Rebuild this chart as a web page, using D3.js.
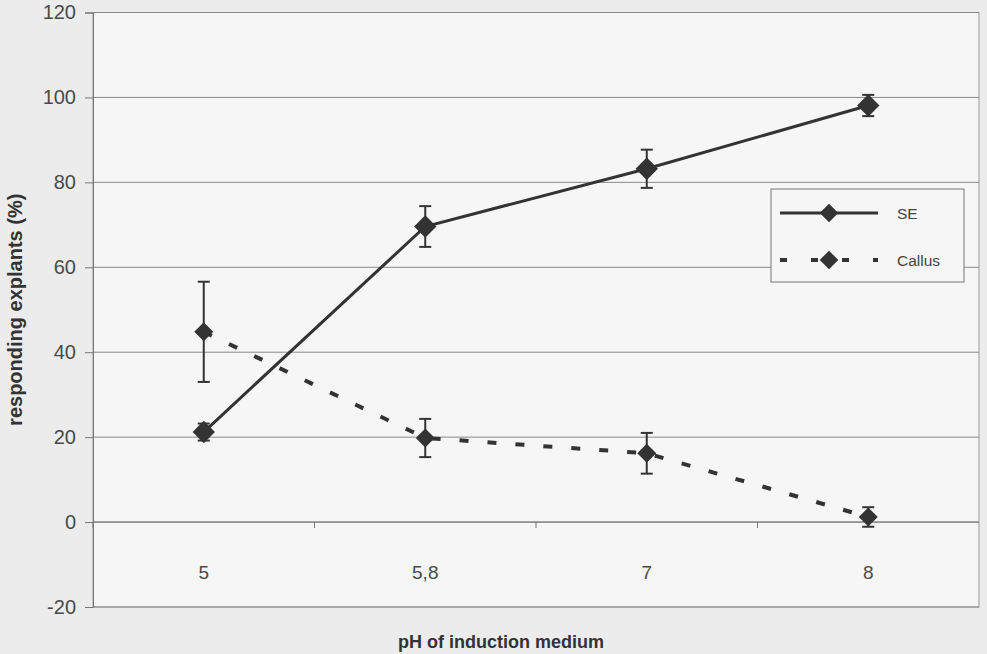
<!DOCTYPE html>
<html>
<head>
<meta charset="utf-8">
<script src="https://cdn.jsdelivr.net/npm/d3@7"></script>
<style>
  body { margin: 0; background: #ececec; }
  svg { display: block; font-family: "Liberation Sans", Arial, sans-serif; }
</style>
</head>
<body>
<svg id="chart" width="987" height="654"></svg>
<script>
// data
var categories = ["5", "5,8", "7", "8"];
var seValues = [21.2, 69.6, 83.2, 98.1];
var seErr = [2.0, 4.8, 4.5, 2.5];
var callusValues = [44.8, 19.8, 16.2, 1.2];
var callusErr = [11.8, 4.5, 4.8, 2.3];
var yTicks = [-20, 0, 20, 40, 60, 80, 100, 120];

var svg = d3.select("#chart");
var ink = "#333";

var plotL = 93, plotR = 979, plotT = 12.5, plotB = 607;

var x = d3.scaleBand().domain(categories).range([plotL, plotR]);
var y = d3.scaleLinear().domain([-20, 120]).range([plotB, plotT]);

// plot area
svg.append("rect")
  .attr("x", plotL).attr("y", plotT)
  .attr("width", plotR - plotL).attr("height", plotB - plotT)
  .attr("fill", "#f6f6f6")
  .attr("stroke", "#999").attr("stroke-width", 1);

// gridlines
svg.append("g")
  .selectAll("line")
  .data(yTicks)
  .join("line")
  .attr("x1", plotL).attr("x2", plotR)
  .attr("y1", d => y(d)).attr("y2", d => y(d))
  .attr("stroke", "#8a8a8a").attr("stroke-width", 1);

// y axis
var yAxis = svg.append("g")
  .attr("transform", "translate(" + plotL + ",0)")
  .call(d3.axisLeft(y).tickValues(yTicks).tickSize(8).tickPadding(9)
    .tickFormat(d => String(d)));
yAxis.select(".domain").attr("stroke", "#777");
yAxis.selectAll(".tick line").attr("stroke", "#777");
yAxis.selectAll("text").attr("fill", "#4a4a4a").attr("font-size", 20);

// x axis on zero line, ticks between categories
var xAxis = svg.append("g")
  .attr("transform", "translate(0," + y(0) + ")");
xAxis.append("line")
  .attr("x1", plotL).attr("x2", plotR)
  .attr("stroke", "#777");
xAxis.selectAll("line.tk")
  .data(categories)
  .join("line")
  .attr("class", "tk")
  .attr("x1", d => x(d)).attr("x2", d => x(d))
  .attr("y1", 0).attr("y2", 6)
  .attr("stroke", "#777");
xAxis.selectAll("text")
  .data(categories)
  .join("text")
  .attr("x", d => x(d) + x.bandwidth() / 2)
  .attr("y", 57)
  .attr("text-anchor", "middle")
  .attr("fill", "#4a4a4a")
  .attr("font-size", 19)
  .text(d => d);

// axis titles
svg.append("text")
  .attr("x", 501).attr("y", 648)
  .attr("text-anchor", "middle")
  .attr("font-weight", "bold")
  .attr("font-size", 18)
  .attr("fill", "#333")
  .text("pH of induction medium");

svg.append("text")
  .attr("transform", "translate(22," + (plotT + plotB) / 2 + ") rotate(-90)")
  .attr("text-anchor", "middle")
  .attr("font-weight", "bold")
  .attr("font-size", 20)
  .attr("fill", "#333")
  .text("responding explants (%)");

var cx = d => x(d) + x.bandwidth() / 2;
var diamond = d3.symbol().type(d3.symbolDiamond2);

function drawSeries(vals, errs, dash, size) {
  var pts = categories.map((c, i) => ({ c: c, v: vals[i], e: errs[i] }));
  var g = svg.append("g");
  g.append("path")
    .datum(pts)
    .attr("d", d3.line().x(d => cx(d.c)).y(d => y(d.v)))
    .attr("fill", "none")
    .attr("stroke", ink)
    .attr("stroke-width", dash ? 4 : 3)
    .attr("stroke-dasharray", dash || null);
  var eb = g.selectAll("g.eb").data(pts).join("g").attr("class", "eb");
  eb.append("line")
    .attr("x1", d => cx(d.c)).attr("x2", d => cx(d.c))
    .attr("y1", d => y(d.v + d.e)).attr("y2", d => y(d.v - d.e))
    .attr("stroke", ink).attr("stroke-width", 2);
  [1, -1].forEach(s => {
    eb.append("line")
      .attr("x1", d => cx(d.c) - 6).attr("x2", d => cx(d.c) + 6)
      .attr("y1", d => y(d.v + s * d.e)).attr("y2", d => y(d.v + s * d.e))
      .attr("stroke", ink).attr("stroke-width", 2);
  });
  g.selectAll("path.m").data(pts).join("path")
    .attr("class", "m")
    .attr("transform", d => "translate(" + cx(d.c) + "," + y(d.v) + ")")
    .attr("d", diamond.size(size))
    .attr("fill", ink);
}

drawSeries(seValues, seErr, null, 320);
drawSeries(callusValues, callusErr, "9,19", 230);

// legend
var lg = svg.append("g");
lg.append("rect")
  .attr("x", 771).attr("y", 189)
  .attr("width", 193).attr("height", 93)
  .attr("fill", "#f6f6f6")
  .attr("stroke", "#777");
var items = [{ name: "SE", dash: null, w: 3 }, { name: "Callus", dash: "7,24", w: 4 }];
items.forEach((it, i) => {
  var yy = 213 + i * 47;
  lg.append("line")
    .attr("x1", 780).attr("x2", 878)
    .attr("y1", yy).attr("y2", yy)
    .attr("stroke", ink).attr("stroke-width", it.w)
    .attr("stroke-dasharray", it.dash);
  lg.append("path")
    .attr("transform", "translate(829," + yy + ")")
    .attr("d", diamond.size(220))
    .attr("fill", ink);
  lg.append("text")
    .attr("x", 897).attr("y", yy + 6)
    .attr("font-size", 15.5)
    .attr("fill", "#444")
    .text(it.name);
});
</script>
</body>
</html>
